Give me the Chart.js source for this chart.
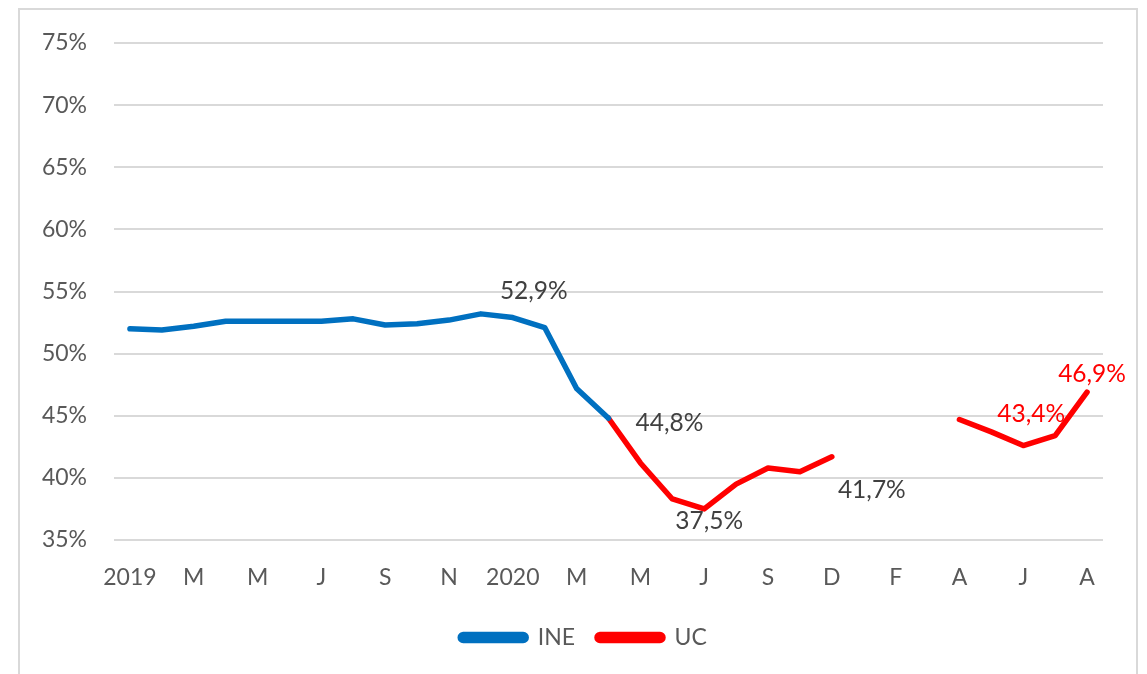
<!DOCTYPE html>
<html>
<head>
<meta charset="utf-8">
<script src="https://cdn.jsdelivr.net/npm/chart.js@4/dist/chart.umd.min.js"></script>
<style>
  html, body { margin: 0; padding: 0; background: #ffffff; }
  #frame { position: absolute; left: 18px; top: 8px; width: 1120px; height: 700px; border: 2px solid #d9d9d9; box-sizing: border-box; }
  #c { position: absolute; left: 0; top: 0; }
</style>
</head>
<body>
<div id="frame"></div>
<canvas id="c" width="1147" height="674"></canvas>
<script>
// Categories (monthly, Spanish initials; first month of each year shown as the year)
const months = ['2019','F','M','A','M','J','J','A','S','O','N','D',
                '2020','F','M','A','M','J','J','A','S','N','D','E',
                'F','M','A','M','J','J','A'];

// Series values (%)
const ineValues = [52.0, 51.9, 52.2, 52.6, 52.6, 52.6, 52.6, 52.8, 52.3, 52.4, 52.7, 53.2,
                   52.9, 52.1, 47.2, 44.8, null, null, null, null, null, null, null, null,
                   null, null, null, null, null, null, null];
const ucValues  = [null, null, null, null, null, null, null, null, null, null, null, null,
                   null, null, null, 44.8, 41.2, 38.3, 37.5, 39.5, 40.8, 40.5, 41.7, null,
                   null, null, 44.7, 43.7, 42.6, 43.4, 46.9];

// Y axis ticks
const yTicks = [35, 40, 45, 50, 55, 60, 65, 70, 75];

// Annotated points: [dataset index, category index]
const labelPoints = [[0, 12], [1, 15], [1, 18], [1, 22], [1, 29], [1, 30]];
// Label styling (offsets from point in px, colours)
const labelStyle = [
  { dx: 21, dy: -26, color: '#404040' },
  { dx: 61, dy: 5,   color: '#404040' },
  { dx: 5,  dy: 12,  color: '#404040' },
  { dx: 40, dy: 33,  color: '#404040' },
  { dx: -24, dy: -22, color: '#ff0000' },
  { dx: 5,  dy: -18, color: '#ff0000' }
];

const FONT = 'Lato, "Open Sans", sans-serif';
const fmt = v => v.toFixed(1).replace('.', ',') + '%';

const pointLabels = {
  id: 'pointLabels',
  afterDatasetsDraw(chart) {
    const ctx = chart.ctx;
    ctx.save();
    ctx.font = '24.5px ' + FONT;
    ctx.textAlign = 'center';
    ctx.textBaseline = 'middle';
    labelPoints.forEach(([ds, idx], k) => {
      const meta = chart.getDatasetMeta(ds);
      const el = meta.data[idx];
      const v = chart.data.datasets[ds].data[idx];
      if (!el || v == null) return;
      const s = labelStyle[k];
      ctx.fillStyle = s.color;
      ctx.fillText(fmt(v), el.x + s.dx, el.y + s.dy);
    });
    ctx.restore();
  }
};

// Center the legend on the whole canvas rather than on the padded layout box
const legendShift = {
  id: 'legendShift',
  afterLayout(chart) {
    const lg = chart.legend;
    if (!lg) return;
    const target = chart.width / 2 + 10;
    const cur = (lg.left + lg.right) / 2;
    const d = target - cur;
    lg.left += d; lg.right += d;
    if (lg.legendHitBoxes) lg.legendHitBoxes.forEach(b => { b.left += d; });
  }
};

new Chart(document.getElementById('c'), {
  type: 'line',
  data: {
    labels: months,
    datasets: [
      { label: 'INE', data: ineValues, borderColor: '#0070c0', backgroundColor: '#0070c0',
        borderWidth: 5.5, pointRadius: 0, tension: 0, borderJoinStyle: 'round', borderCapStyle: 'round', spanGaps: false },
      { label: 'UC', data: ucValues, borderColor: '#ff0000', backgroundColor: '#ff0000',
        borderWidth: 5.5, pointRadius: 0, tension: 0, borderJoinStyle: 'round', borderCapStyle: 'round', spanGaps: false }
    ]
  },
  options: {
    responsive: false,
    animation: false,
    layout: { padding: { left: 0, right: 44, top: 43, bottom: 15 } },
    plugins: {
      tooltip: { enabled: false },
      legend: {
        position: 'bottom',
        labels: {
          boxWidth: 66, boxHeight: 6, useBorderRadius: true, borderRadius: 3,
          color: '#595959', font: { family: FONT, size: 23 }, padding: 22
        }
      }
    },
    scales: {
      x: {
        offset: true,
        grid: { display: false, drawTicks: false },
        border: { display: false },
        ticks: {
          autoSkip: false, maxRotation: 0, minRotation: 0, padding: 24,
          color: '#595959', font: { family: FONT, size: 23 },
          callback: (v, i) => (i % 2 === 0 ? months[i] : '')
        },
        afterFit: s => { s.height = 64; }
      },
      y: {
        min: yTicks[0], max: yTicks[yTicks.length - 1],
        afterBuildTicks: s => { s.ticks = yTicks.map(v => ({ value: v })); },
        grid: { color: '#d9d9d9', lineWidth: 2, drawTicks: false },
        border: { display: false },
        ticks: {
          padding: 27, color: '#595959', font: { family: FONT, size: 23 },
          callback: v => v + '%'
        },
        afterFit: s => { s.width = 114; }
      }
    }
  },
  plugins: [pointLabels, legendShift]
});
</script>
</body>
</html>
